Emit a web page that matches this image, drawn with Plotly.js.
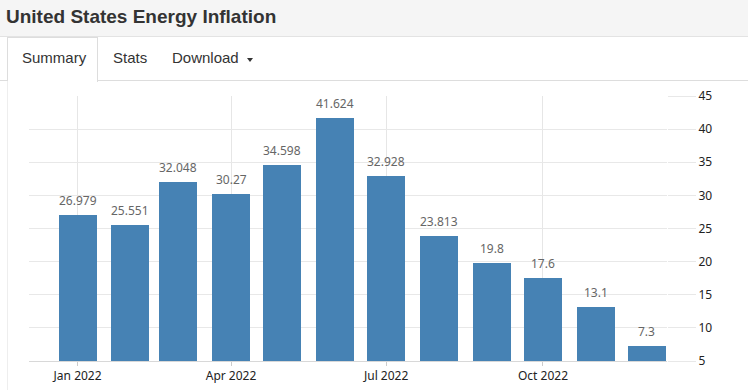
<!DOCTYPE html>
<html>
<head>
<meta charset="utf-8">
<script src="https://cdn.plot.ly/plotly-3.0.1.min.js"></script>
<style>
  html, body { margin:0; padding:0; width:748px; height:390px; overflow:hidden; background:#fff; }
  #header { position:absolute; left:0; top:0; width:748px; height:36px; background:#f5f5f5; border-bottom:1px solid #e3e3e3; }
  #title { position:absolute; left:6px; top:6px; font-family:"Liberation Sans", Arial, sans-serif; font-weight:bold; font-size:19px; color:#333; white-space:nowrap; }
  #tabline1 { position:absolute; left:0; top:80px; width:7px; height:1px; background:#ddd; }
  #tabline2 { position:absolute; left:97px; top:80px; width:651px; height:1px; background:#ddd; }
  #activetab { position:absolute; left:7px; top:37px; width:89px; height:44px; border:1px solid #ddd; border-bottom:none; background:#fff; }
  #panel { position:absolute; left:7px; top:81px; width:1px; height:309px; background:#eee; }
  .tab { position:absolute; top:49px; font-family:"Liberation Sans", Arial, sans-serif; font-size:15px; color:#333; white-space:nowrap; }
  #caret { position:absolute; left:247px; top:58px; width:0; height:0; border-left:3.5px solid transparent; border-right:3.5px solid transparent; border-top:4px solid #333; }
  #chart { position:absolute; left:0; top:0; width:748px; height:390px; }
</style>
</head>
<body>
<div id="header"><div id="title">United States Energy Inflation</div></div>
<div id="tabline1"></div>
<div id="tabline2"></div>
<div id="activetab"></div>
<div id="panel"></div>
<div class="tab" style="left:22px;">Summary</div>
<div class="tab" style="left:113px;">Stats</div>
<div class="tab" style="left:172px;">Download</div>
<div id="caret"></div>
<div id="chart"></div>
<script>
const months = ['2022-01-01','2022-02-01','2022-03-01','2022-04-01','2022-05-01','2022-06-01',
                '2022-07-01','2022-08-01','2022-09-01','2022-10-01','2022-11-01','2022-12-01'];
const values = [26.979, 25.551, 32.048, 30.27, 34.598, 41.624, 32.928, 23.813, 19.8, 17.6, 13.1, 7.3];
const tickDates = ['2022-01-01','2022-04-01','2022-07-01','2022-10-01'];
const tickLabels = ['Jan 2022','Apr 2022','Jul 2022','Oct 2022'];
const yTicks = [5,10,15,20,25,30,35,40,45];

const DAY = 86400000;
const trace = {
  type:'bar', x: months, y: values, base: 5,
  marker:{color:'#4682b4'},
  width: months.map(()=>22.3*DAY),
  hoverinfo:'none'
};
// base 5 draws from axis bottom; bar top must equal value
trace.y = values.map(v => v - 5);

const annotations = months.map((m,i)=>({
  x:m, y:values[i], xref:'x', yref:'y', text:String(values[i]),
  showarrow:false, yanchor:'bottom', yshift:4,
  font:{family:'"Noto Sans", "Open Sans", sans-serif', size:12, color:'#666'}
}));

const layout = {
  width:748, height:390,
  margin:{l:29, r:81, t:96, b:29, pad:0},
  paper_bgcolor:'rgba(0,0,0,0)', plot_bgcolor:'rgba(0,0,0,0)',
  showlegend:false,
  xaxis:{
    type:'date', range:['2021-12-03 12:00','2022-12-12 18:00'],
    tickmode:'array', tickvals:tickDates, ticktext:tickLabels,
    showgrid:true, gridcolor:'#e6e6e6', gridwidth:1,
    showline:true, linecolor:'#d8d8d8', linewidth:1,
    ticks:'outside', ticklen:4, tickcolor:'#ccc',
    tickfont:{family:'"Noto Sans", sans-serif', size:12, color:'#222'},
    zeroline:false, fixedrange:true
  },
  yaxis:{
    range:[5,45], side:'right', tickmode:'array', tickvals:yTicks,
    showgrid:true, gridcolor:'#e8e8e8', gridwidth:1,
    ticks:'outside', ticklen:28, tickcolor:'#e8e8e8',
    tickfont:{family:'"Noto Sans", sans-serif', size:12, color:'#222'},
    zeroline:false, showline:false, fixedrange:true
  },
  bargap:0,
  annotations: annotations
};
Plotly.newPlot('chart', [trace], layout, {displayModeBar:false, staticPlot:true});
</script>
</body>
</html>
